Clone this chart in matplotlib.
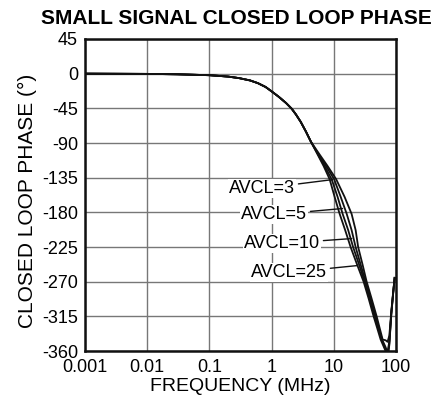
import numpy as np
import matplotlib
matplotlib.use("Agg")
import matplotlib.pyplot as plt

plt.rcParams['font.family'] = ['Liberation Sans', 'DejaVu Sans']

# shared low-frequency part of the phase curves (MHz, degrees)
freq_low = [0.001, 0.01, 0.03, 0.1, 0.2, 0.3, 0.45, 0.6, 0.8, 1.0, 1.3, 1.7,
            2.1, 2.46, 2.93, 3.55, 4.29]
phase_low = [0, -0.3, -0.8, -2, -3.8, -5.8, -8.8, -12.3, -17.3, -23, -30, -38,
             -45.5, -53, -62.5, -75, -88.5]

# roll-off: frequency where each curve crosses these phase levels
phase_hi = [-105, -120, -137, -160, -182, -203, -225, -248, -270, -292, -315, -330, -345]
gains = ['AVCL=3', 'AVCL=5', 'AVCL=10', 'AVCL=25']
freq_hi = {
    'AVCL=3':  [5.49, 6.86, 8.56, 10.3, 12.4, 15.2, 18.6, 23.7, 30.1, 36.3, 43.6, 49.7, 56.5],
    'AVCL=5':  [5.59, 7.11, 9.22, 11.5, 13.85, 17.0, 20.4, 25.5, 31.3, 37.6, 45.3, 51.5, 58.7],
    'AVCL=10': [5.70, 7.52, 10.1, 12.9, 16.1, 19.3, 22.4, 27.0, 32.5, 39.1, 47.0, 52.5, 59.7],
    'AVCL=25': [5.91, 7.95, 10.9, 14.9, 19.3, 22.4, 24.6, 29.0, 33.7, 40.5, 48.8, 54.5, 60.9],
}
# dip near 73 MHz and the sharp rise at the top end
freq_tail = [68, 73, 78, 84, 90, 95]
phase_tail = {
    'AVCL=3':  [-360, -370, -352, -312, -285, -265],
    'AVCL=5':  [-358, -366, -350, -311, -284, -265],
    'AVCL=10': [-355, -362, -347, -310, -284, -265],
    'AVCL=25': [-346, -348, -340, -308, -283, -265],
}

# label text position (right edge) and leader end on the curve
label_pos = {
    'AVCL=3':  ((2.18, -149), (9.55, -137.5)),
    'AVCL=5':  ((3.39, -183), (13.8, -175)),
    'AVCL=10': ((5.49, -220.5), (19.4, -214)),
    'AVCL=25': ((7.1, -258), (24.1, -249)),
}

yticks = [45, 0, -45, -90, -135, -180, -225, -270, -315, -360]
xticks = [0.001, 0.01, 0.1, 1, 10, 100]
xtick_labels = ['0.001', '0.01', '0.1', '1', '10', '100']

fig = plt.figure(figsize=(4.43, 4.04), dpi=100)
ax = fig.add_axes([0.192, 0.131, 0.702, 0.7725])

for g in gains:
    f = freq_low + freq_hi[g] + freq_tail
    p = phase_low + phase_hi + phase_tail[g]
    ax.plot(f, p, color='#111111', lw=1.3, zorder=3, solid_joinstyle='round')

for g in gains:
    (tx, ty), (px, py) = label_pos[g]
    ax.annotate(g, xy=(px, py), xytext=(tx * 1.08, ty), ha='right', va='center',
                fontsize=13, zorder=4,
                bbox=dict(boxstyle='square,pad=0.05', fc='white', ec='none'),
                arrowprops=dict(arrowstyle='-', color='#111111', lw=1.0,
                                shrinkA=2, shrinkB=0))

ax.set_xscale('log')
ax.set_xlim(0.001, 100)
ax.set_ylim(-360, 45)
ax.set_xticks(xticks)
ax.set_xticklabels(xtick_labels)
ax.set_yticks(yticks)
ax.set_yticklabels([str(v) for v in yticks])
ax.minorticks_off()
ax.tick_params(length=0, labelsize=13, pad=5)
ax.tick_params(axis='x', pad=6)
ax.grid(True, color='#777777', lw=1.0)
ax.set_axisbelow(True)
for s in ax.spines.values():
    s.set_linewidth(1.8)
    s.set_color('#111111')
    s.set_zorder(5)

ax.set_xlabel('FREQUENCY (MHz)', fontsize=14, labelpad=1)
ax.set_ylabel('CLOSED LOOP PHASE (°)', fontsize=15)
ax.yaxis.set_label_coords(-0.155, 0.48)
ax.set_title('SMALL SIGNAL CLOSED LOOP PHASE', fontsize=15, fontweight='bold', pad=11, x=0.485)

fig.savefig('out.png', dpi=100)
